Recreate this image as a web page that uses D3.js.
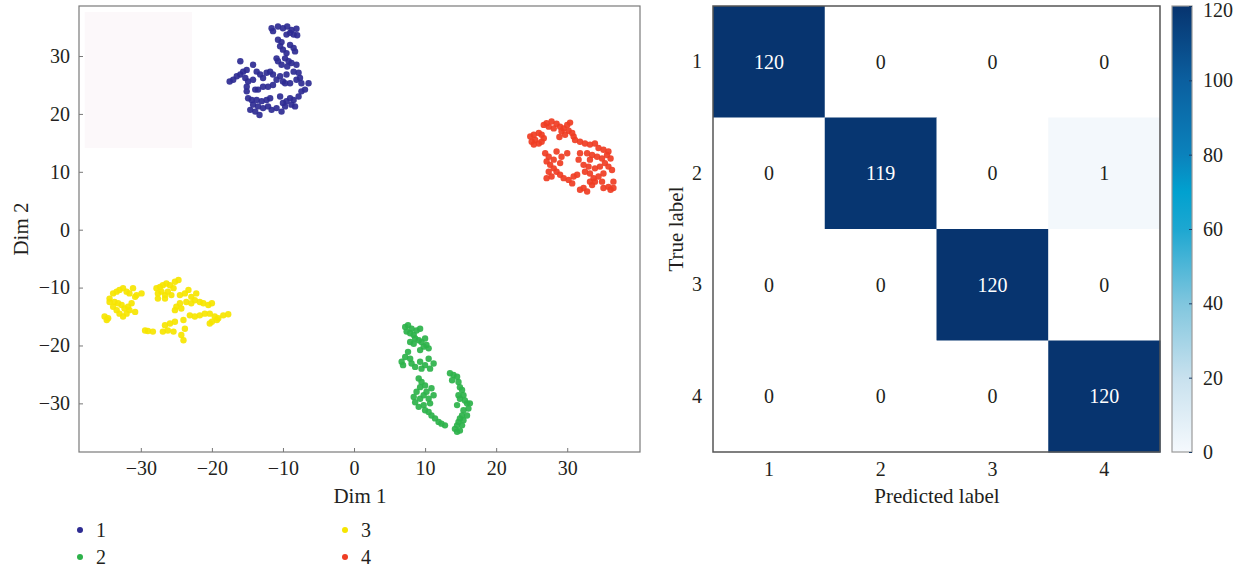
<!DOCTYPE html>
<html>
<head>
  <meta charset="utf-8">
  <title>tsne + confusion</title>
  <script src="https://d3js.org/d3.v7.min.js"></script>
  <style>
    body { margin: 0; background: #fff; }
    text { font-family: "Liberation Serif", "DejaVu Serif", serif; fill: #231f20; }
  </style>
</head>
<body>
  <svg width="1250" height="573" id="mainsvg"></svg>
  <script>
    // t-SNE embedding, one array per class: [dim1, dim2]
    const class1 = [[-11.6,34.8],[-11.4,34.3],[-10.7,35.1],[-10.0,34.8],[-9.4,35.1],[-8.8,34.5],[-8.1,34.7],[-9.0,34.0],[-8.5,33.7],[-8.0,33.6],[-9.5,33.7],[-10.7,32.8],[-10.2,32.4],[-10.4,31.7],[-10.0,31.1],[-9.5,30.5],[-8.5,31.4],[-8.3,30.8],[-9.0,31.9],[-9.7,29.6],[-10.9,29.6],[-10.7,29.1],[-10.2,28.5],[-9.2,29.1],[-8.8,28.8],[-8.1,28.5],[-9.4,28.2],[-16.0,29.1],[-14.2,28.5],[-15.1,27.6],[-15.6,27.3],[-16.0,26.8],[-16.5,26.5],[-17.0,25.9],[-17.5,25.6],[-15.3,26.2],[-14.9,25.6],[-15.1,24.7],[-15.1,23.9],[-14.9,22.7],[-13.7,27.3],[-13.2,26.8],[-12.8,26.2],[-12.3,27.1],[-11.8,27.3],[-11.4,26.8],[-10.9,25.9],[-10.4,26.5],[-10.0,25.6],[-9.5,26.8],[-8.5,27.3],[-7.8,27.1],[-7.6,26.2],[-7.4,25.3],[-6.4,25.3],[-8.1,25.9],[-9.0,25.3],[-9.7,25.3],[-11.4,25.0],[-12.1,24.7],[-12.8,24.7],[-13.5,24.2],[-13.9,24.2],[-14.2,25.9],[-14.4,22.4],[-13.7,22.4],[-13.0,22.2],[-12.3,22.4],[-11.8,22.7],[-14.2,21.6],[-13.5,21.3],[-12.8,21.0],[-12.1,21.3],[-11.6,20.7],[-10.9,21.0],[-14.6,20.7],[-13.9,20.4],[-13.3,19.8],[-10.2,20.4],[-9.7,21.3],[-9.5,22.2],[-9.0,22.7],[-8.5,22.4],[-8.8,21.6],[-8.3,21.3],[-7.8,23.0],[-7.4,23.9],[-6.9,24.2],[-10.4,23.0],[-10.0,21.9]];
    const class2 = [[7.2,-16.8],[7.6,-16.5],[8.1,-17.1],[7.4,-17.6],[7.9,-17.9],[8.4,-18.2],[8.8,-17.4],[9.3,-17.1],[8.6,-18.8],[9.1,-19.1],[9.5,-19.4],[10.0,-18.8],[10.2,-19.9],[10.5,-20.5],[9.8,-20.2],[9.3,-20.8],[7.9,-19.4],[8.4,-19.7],[7.6,-21.1],[7.2,-22.0],[6.7,-22.8],[6.9,-23.4],[7.9,-22.3],[8.1,-23.1],[8.6,-23.7],[9.3,-22.8],[9.5,-24.0],[10.0,-23.4],[10.5,-22.3],[10.7,-24.0],[11.2,-23.1],[9.1,-25.7],[9.5,-26.3],[10.0,-26.9],[9.3,-27.2],[8.8,-28.0],[8.4,-28.9],[8.6,-29.8],[9.3,-29.2],[9.8,-28.6],[10.2,-28.0],[10.5,-29.2],[10.9,-27.4],[11.2,-28.6],[10.7,-30.0],[9.1,-30.6],[9.8,-30.3],[10.0,-31.2],[10.5,-31.5],[10.9,-32.1],[11.4,-32.6],[11.9,-33.2],[12.3,-33.5],[12.8,-33.8],[13.5,-24.8],[14.0,-25.1],[14.5,-25.4],[13.8,-26.0],[14.7,-26.3],[14.9,-27.2],[15.2,-27.7],[15.4,-28.6],[14.9,-29.2],[15.6,-29.5],[15.9,-30.0],[16.1,-30.9],[15.4,-31.2],[15.2,-32.1],[14.9,-32.6],[14.7,-33.2],[14.5,-33.8],[14.2,-34.4],[14.5,-34.9],[14.9,-34.7],[15.2,-33.8],[15.4,-32.9],[15.9,-32.1],[16.3,-30.0],[14.7,-28.6],[14.5,-30.3]];
    const class3 = [[-35.1,-15.0],[-34.6,-15.3],[-34.8,-15.6],[-34.4,-11.9],[-33.9,-11.0],[-33.4,-10.7],[-33.0,-10.4],[-32.5,-10.1],[-32.0,-10.7],[-31.6,-11.0],[-31.1,-10.1],[-30.8,-11.6],[-30.6,-11.3],[-29.9,-11.0],[-33.7,-12.5],[-33.2,-12.7],[-32.7,-13.0],[-33.9,-13.3],[-33.4,-13.9],[-33.0,-14.5],[-32.3,-13.6],[-31.8,-13.3],[-31.6,-13.9],[-32.0,-14.5],[-30.8,-14.2],[-32.5,-15.0],[-31.3,-12.7],[-34.4,-12.5],[-27.8,-10.1],[-27.3,-9.9],[-26.9,-9.6],[-26.4,-9.3],[-25.9,-9.6],[-25.2,-9.0],[-24.7,-8.7],[-27.6,-11.0],[-27.1,-10.7],[-26.6,-11.3],[-27.6,-11.9],[-26.2,-10.7],[-25.4,-10.1],[-25.7,-11.3],[-26.6,-11.9],[-24.5,-11.3],[-23.8,-11.0],[-23.3,-10.4],[-22.9,-11.6],[-22.2,-11.0],[-23.6,-12.5],[-22.9,-12.7],[-22.4,-12.2],[-21.7,-12.5],[-21.2,-12.7],[-20.5,-13.0],[-20.0,-12.7],[-24.5,-12.7],[-25.0,-13.3],[-24.3,-13.6],[-25.2,-13.9],[-23.1,-14.8],[-22.4,-15.0],[-21.7,-14.8],[-21.0,-14.5],[-20.3,-14.5],[-19.6,-15.0],[-19.1,-15.3],[-18.4,-14.8],[-17.7,-14.6],[-20.0,-15.9],[-19.3,-15.6],[-20.3,-16.2],[-29.4,-17.4],[-29.0,-17.5],[-28.3,-17.6],[-26.6,-16.5],[-25.9,-16.2],[-25.2,-15.9],[-26.9,-17.6],[-26.2,-17.4],[-25.4,-17.6],[-24.0,-15.6],[-23.8,-17.1],[-24.3,-18.2],[-24.0,-19.1]];
    const class4 = [[27.1,18.4],[27.8,18.7],[28.5,18.3],[29.0,17.8],[29.5,17.5],[30.0,18.1],[30.4,18.5],[28.1,17.5],[27.4,17.8],[26.7,18.1],[29.2,17.0],[30.2,17.1],[30.7,16.7],[30.9,16.1],[31.1,15.5],[29.7,16.4],[28.9,16.0],[24.8,16.1],[25.3,16.4],[26.0,16.7],[26.4,16.4],[26.7,15.8],[25.5,15.5],[25.0,15.2],[26.0,14.9],[26.4,15.2],[25.3,14.7],[31.8,15.2],[32.5,14.9],[33.2,14.7],[33.9,14.9],[34.4,14.1],[35.1,13.8],[35.8,13.5],[32.8,13.2],[33.5,12.9],[34.2,12.6],[34.9,12.3],[35.6,12.9],[36.1,12.3],[35.3,11.5],[34.6,10.9],[33.9,10.6],[35.8,10.9],[36.3,10.3],[35.1,9.7],[34.4,9.2],[33.7,8.9],[33.2,9.7],[32.5,10.0],[33.0,10.9],[32.3,11.2],[31.8,13.2],[31.6,12.1],[33.2,12.1],[26.9,13.2],[27.4,12.6],[27.1,11.8],[27.6,11.2],[28.1,12.1],[28.5,13.5],[29.2,12.6],[30.0,13.2],[29.0,11.5],[28.1,10.6],[28.5,10.0],[27.4,10.0],[27.1,8.9],[27.8,9.2],[29.0,9.5],[29.5,8.9],[30.2,8.6],[30.7,8.0],[30.9,9.2],[31.4,9.5],[31.8,6.9],[32.3,7.2],[32.8,6.6],[33.2,8.3],[33.5,7.7],[33.9,8.3],[34.9,8.3],[35.1,7.2],[35.8,7.4],[36.5,8.3],[36.5,7.2],[36.1,6.9]];

    const classNames = ['1', '2', '3', '4'];
    const classColors = ['#2e2b92', '#2db24a', '#f6e500', '#ef3d23'];
    const dimTicks = [-30, -20, -10, 0, 10, 20, 30];

    // confusion matrix, rows = true label, cols = predicted label
    const labels = ['1', '2', '3', '4'];
    const confusion = [
      [120, 0, 0, 0],
      [0, 119, 0, 1],
      [0, 0, 120, 0],
      [0, 0, 0, 120]
    ];
    const cbarTicks = [0, 20, 40, 60, 80, 100, 120];
    const cbarStops = [0, 20, 40, 60, 70, 80, 100, 120];
    const cbarColors = ['#f5f9fd', '#c8e1ee', '#80c6de', '#1da7d1', '#01a1cf', '#0b82bc', '#0b5f9f', '#07346f'];

    const FS = 20;
    let svg = d3.select('#mainsvg');

    // ---------- scatter ----------
    const sx = d3.scaleLinear().domain([-38.7, 40.24]).range([79, 640]);
    const sy = d3.scaleLinear().domain([-38.4, 38.64]).range([452, 6]);

    // faint box left over in the figure
    svg.append('rect')
      .attr('x', sx(-37.9)).attr('y', sy(37.6))
      .attr('width', sx(-22.8) - sx(-37.9)).attr('height', sy(14.1) - sy(37.6))
      .attr('fill', '#fcf8fa');

    const xAxis = svg.append('g')
      .attr('transform', 'translate(0,452)')
      .call(d3.axisBottom(sx).tickValues(dimTicks).tickSizeInner(-4).tickSizeOuter(0).tickPadding(9));
    const yAxis = svg.append('g')
      .attr('transform', 'translate(79,0)')
      .call(d3.axisLeft(sy).tickValues(dimTicks).tickSizeInner(-4).tickSizeOuter(0).tickPadding(9));
    [xAxis, yAxis].forEach(g => {
      g.select('.domain').remove();
      g.attr('font-size', FS).attr('font-family', '"Liberation Serif", serif');
      g.selectAll('line').attr('stroke', '#777');
      g.selectAll('text').attr('fill', '#231f20');
    });

    svg.append('rect')
      .attr('x', 79).attr('y', 6).attr('width', 561).attr('height', 446)
      .attr('fill', 'none').attr('stroke', '#7a7a7a').attr('stroke-width', 1.2);

    const classes = [class1, class2, class3, class4];
    classes.forEach((pts, i) => {
      svg.append('g').selectAll('circle').data(pts)
        .enter().append('circle')
        .attr('cx', d => sx(d[0]))
        .attr('cy', d => sy(d[1]))
        .attr('r', 3.2)
        .attr('fill', classColors[i])
        .attr('opacity', 0.92);
    });

    svg.append('text').attr('x', 360).attr('y', 503).attr('text-anchor', 'middle')
      .attr('font-size', 21).text('Dim 1');
    svg.append('text').attr('transform', 'translate(28,229) rotate(-90)').attr('text-anchor', 'middle')
      .attr('font-size', 21).text('Dim 2');

    // legend
    const legend = svg.append('g');
    classNames.forEach((name, i) => {
      const lx = 80 + Math.floor(i / 2) * 265;
      const ly = 530 + (i % 2) * 27;
      legend.append('circle').attr('cx', lx).attr('cy', ly).attr('r', 3).attr('fill', classColors[i]);
      legend.append('text').attr('x', lx + 16).attr('y', ly + 7).attr('font-size', FS).text(name);
    });

    // ---------- confusion matrix ----------
    const cx = d3.scaleBand().domain(labels).range([713, 1160]);
    const cy = d3.scaleBand().domain(labels).range([6, 452]);
    const color = d3.scaleLinear().domain(cbarStops).range(cbarColors);

    const cells = [];
    confusion.forEach((row, r) => row.forEach((v, c) => cells.push({ r: labels[r], c: labels[c], v: v })));

    svg.append('g').selectAll('rect').data(cells)
      .enter().append('rect')
      .attr('x', d => cx(d.c))
      .attr('y', d => cy(d.r))
      .attr('width', cx.bandwidth() + 0.5)
      .attr('height', cy.bandwidth() + 0.5)
      .attr('fill', d => d.v === 0 ? '#ffffff' : color(d.v));

    svg.append('g').selectAll('text').data(cells)
      .enter().append('text')
      .attr('x', d => cx(d.c) + cx.bandwidth() / 2)
      .attr('y', d => cy(d.r) + cy.bandwidth() / 2)
      .attr('dy', '0.35em')
      .attr('text-anchor', 'middle')
      .attr('font-size', FS)
      .style('fill', d => d.v > 60 ? '#ffffff' : '#231f20')
      .text(d => d.v);

    svg.append('rect')
      .attr('x', 713).attr('y', 6).attr('width', 447).attr('height', 446)
      .attr('fill', 'none').attr('stroke', '#555').attr('stroke-width', 1.5);

    const mxAxis = svg.append('g').attr('transform', 'translate(0,452)')
      .call(d3.axisBottom(cx).tickSize(0).tickPadding(10));
    const myAxis = svg.append('g').attr('transform', 'translate(713,0)')
      .call(d3.axisLeft(cy).tickSize(0).tickPadding(11));
    [mxAxis, myAxis].forEach(g => {
      g.select('.domain').remove();
      g.attr('font-size', FS).attr('font-family', '"Liberation Serif", serif');
      g.selectAll('text').attr('fill', '#231f20');
    });

    svg.append('text').attr('x', 937).attr('y', 503).attr('text-anchor', 'middle')
      .attr('font-size', 21).text('Predicted label');
    svg.append('text').attr('transform', 'translate(683,229) rotate(-90)').attr('text-anchor', 'middle')
      .attr('font-size', 21).text('True label');

    // colorbar
    const cb = d3.scaleLinear().domain([0, 120]).range([452, 6]);
    const defs = svg.append('defs');
    const grad = defs.append('linearGradient').attr('id', 'cbgrad')
      .attr('x1', 0).attr('y1', 1).attr('x2', 0).attr('y2', 0);
    cbarStops.forEach((s, i) => {
      grad.append('stop').attr('offset', s / 120).attr('stop-color', cbarColors[i]);
    });
    svg.append('rect')
      .attr('x', 1172).attr('y', cb(120)).attr('width', 20).attr('height', cb(0) - cb(120))
      .attr('fill', 'url(#cbgrad)').attr('stroke', '#9a9a9a').attr('stroke-width', 1.2);

    const cbAxis = svg.append('g').attr('transform', 'translate(1192,0)')
      .call(d3.axisRight(cb).tickValues(cbarTicks).tickSizeInner(-3).tickSizeOuter(0).tickPadding(11));
    cbAxis.select('.domain').remove();
    cbAxis.attr('font-size', FS).attr('font-family', '"Liberation Serif", serif');
    cbAxis.selectAll('line').attr('stroke', '#1c3d66');
    cbAxis.selectAll('text').attr('fill', '#231f20');
    // top label sits just inside the canvas
    cbAxis.selectAll('.tick').filter(d => d === 120).select('text').attr('dy', '0.5em');
  </script>
</body>
</html>
